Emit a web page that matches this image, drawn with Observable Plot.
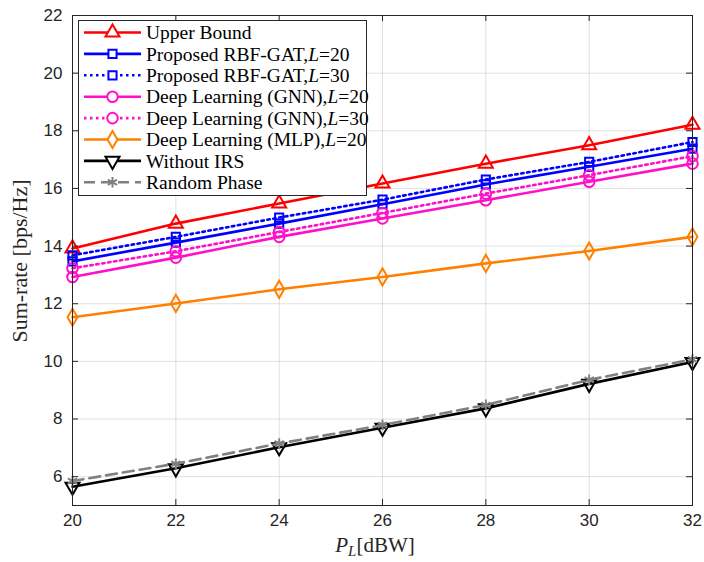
<!DOCTYPE html>
<html><head><meta charset="utf-8">
<script src="https://cdn.jsdelivr.net/npm/d3@7"></script>
<script src="https://cdn.jsdelivr.net/npm/@observablehq/plot@0.6"></script>
<style>
body{margin:0;background:#fff;}
#wrap{position:relative;width:704px;height:562px;}
#wrap svg.ov{position:absolute;left:0;top:0;pointer-events:none;}
</style></head><body><div id="wrap"></div>
<script>
// ---- data ----
const powerDbw = [20, 22, 24, 26, 28, 30, 32];
const upperBound = [13.92, 14.78, 15.48, 16.17, 16.86, 17.50, 18.21];
const rbfGat20   = [13.47, 14.12, 14.78, 15.45, 16.14, 16.75, 17.38];
const rbfGat30   = [13.68, 14.32, 14.99, 15.61, 16.31, 16.92, 17.61];
const gnn20      = [12.93, 13.60, 14.32, 14.96, 15.59, 16.23, 16.86];
const gnn30      = [13.23, 13.82, 14.49, 15.15, 15.82, 16.46, 17.12];
const mlp20      = [11.53, 12.01, 12.50, 12.93, 13.40, 13.83, 14.32];
const withoutIrs = [5.65, 6.29, 7.02, 7.70, 8.37, 9.22, 9.98];
const randomPhase= [5.85, 6.45, 7.15, 7.79, 8.49, 9.36, 10.07];
const seriesNames = ["Upper Bound", "Proposed RBF-GAT,L=20", "Proposed RBF-GAT,L=30",
  "Deep Learning (GNN),L=20", "Deep Learning (GNN),L=30", "Deep Learning (MLP),L=20",
  "Without IRS", "Random Phase"];
const seriesValues = [upperBound, rbfGat20, rbfGat30, gnn20, gnn30, mlp20, withoutIrs, randomPhase];
const xTicks = [20, 22, 24, 26, 28, 30, 32];
const yTicks = [6, 8, 10, 12, 14, 16, 18, 20, 22];

// ---- styles ----
const colors  = ["#ff0000", "#0000ff", "#0000ff", "#ff10c8", "#ff10c8", "#ff8000", "#000000", "#808080"];
const dashes  = [null, null, "2.5,3.5", null, "2.5,3.5", null, null, "11,6"];
const symbols = [d3.symbolTriangle, d3.symbolSquare, d3.symbolSquare, d3.symbolCircle, d3.symbolCircle, d3.symbolDiamond, d3.symbolTriangle, d3.symbolAsterisk];
const rotates = [0, 0, 0, 0, 0, 0, 180, 0];
const radii   = [5.2, 4.6, 4.6, 5.3, 5.3, 5.2, 5.2, 5.0];

const W = 704, H = 562, mL = 72, mR = 12, mT = 15, mB = 57;
const pw = W - mL - mR, ph = H - mT - mB;

const rows = seriesNames.flatMap((name, s) => powerDbw.map((x, i) => ({x, y: seriesValues[s][i], s})));

const seriesMarks = seriesNames.flatMap((name, s) => {
  const d = rows.filter(r => r.s === s);
  return [
    Plot.line(d, {x: "x", y: "y", stroke: colors[s], strokeWidth: 2.6, strokeDasharray: dashes[s]}),
    Plot.dot(d, {x: "x", y: "y", symbol: symbols[s], r: radii[s], stroke: colors[s], fill: "none", strokeWidth: 2, rotate: rotates[s]})
  ];
});

const chart = Plot.plot({
  width: W, height: H, marginLeft: mL, marginRight: mR, marginTop: mT, marginBottom: mB,
  x: {domain: [20, 32]},
  y: {domain: [5, 22]},
  style: {fontFamily: "Liberation Sans, Arial, sans-serif", fontSize: "17px", color: "#262626", background: "white"},
  marks: [
    Plot.gridX({ticks: xTicks, stroke: "#000", strokeOpacity: 0.12}),
    Plot.gridY({ticks: yTicks, stroke: "#000", strokeOpacity: 0.12}),
    ...seriesMarks,
    Plot.frame({stroke: "#262626", strokeWidth: 1}),
    Plot.tickX(xTicks, {x: d => d, insetTop: ph - 6, stroke: "#262626"}),
    Plot.tickX(xTicks, {x: d => d, insetBottom: ph - 6, stroke: "#262626"}),
    Plot.tickY(yTicks, {y: d => d, insetRight: pw - 6, stroke: "#262626"}),
    Plot.tickY(yTicks, {y: d => d, insetLeft: pw - 6, stroke: "#262626"}),
    Plot.axisX({ticks: xTicks, tickSize: 0, tickPadding: 8, label: null, fontSize: 17}),
    Plot.axisY({ticks: yTicks, tickSize: 0, tickPadding: 10, label: null, fontSize: 17})
  ]
});
document.getElementById("wrap").appendChild(chart);

// ---- overlay: legend and axis labels ----
const ov = d3.select("#wrap").append("svg").attr("class", "ov").attr("width", W).attr("height", H)
  .style("font-family", "Liberation Serif, Times New Roman, serif");
ov.append("rect").attr("x", 78.5).attr("y", 20.5).attr("width", 288).attr("height", 175)
  .attr("fill", "white").attr("stroke", "#262626").attr("stroke-width", 1);
seriesNames.forEach((name, s) => {
  const y = 32.5 + s * 21.4;
  const g = ov.append("g");
  g.append("line").attr("x1", 84).attr("x2", 141).attr("y1", y).attr("y2", y)
    .attr("stroke", colors[s]).attr("stroke-width", 2.6).attr("stroke-dasharray", dashes[s]);
  g.append("path").attr("d", d3.symbol(symbols[s], Math.PI * radii[s] * radii[s])())
    .attr("transform", `translate(112.5,${y}) rotate(${rotates[s]})`)
    .attr("fill", "white").attr("stroke", colors[s]).attr("stroke-width", 2);
  const t = g.append("text").attr("x", 146).attr("y", y).attr("dy", "0.34em")
    .attr("font-size", 19.5).attr("fill", "#000");
  const k = name.indexOf(",L=");
  if (k >= 0) {
    t.append("tspan").text(name.slice(0, k + 1));
    t.append("tspan").attr("font-style", "italic").text("L");
    t.append("tspan").text(name.slice(k + 2));
  } else t.text(name);
});
ov.append("text").attr("transform", "translate(27,261) rotate(-90)").attr("text-anchor", "middle")
  .attr("font-size", 22).attr("fill", "#262626").text("Sum-rate [bps/Hz]");
const xl = ov.append("text").attr("x", 375).attr("y", 552).attr("text-anchor", "middle")
  .attr("font-size", 21).attr("fill", "#262626");
xl.append("tspan").attr("font-style", "italic").text("P");
xl.append("tspan").attr("font-style", "italic").attr("font-size", 15).attr("dy", 4).text("L");
xl.append("tspan").attr("dy", -4).text("[dBW]");
</script></body></html>
